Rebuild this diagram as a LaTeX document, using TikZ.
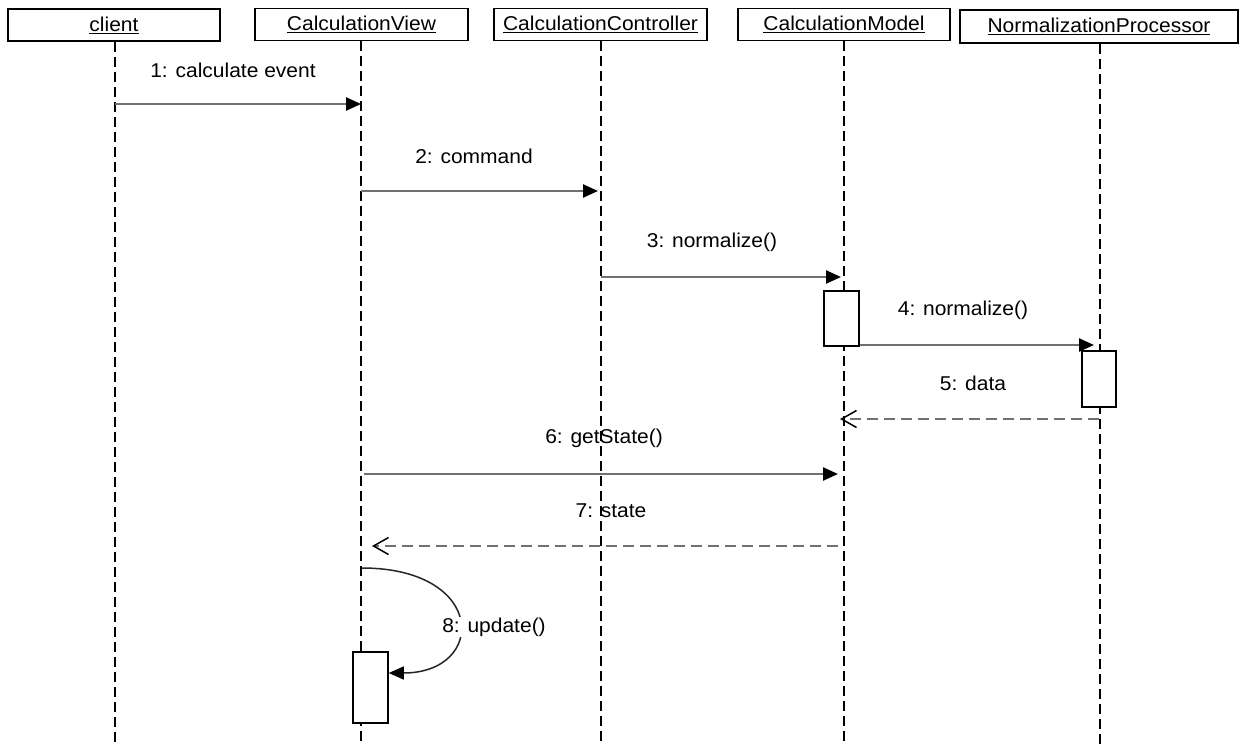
\documentclass[tikz,border=0pt]{standalone}
\usepackage{fontspec}
\setmainfont{Liberation Sans}[FakeStretch=1.05]
\usetikzlibrary{arrows.meta}
\definecolor{msggray}{HTML}{707070}
\begin{document}
\begin{tikzpicture}[x=1pt,y=-1pt,
  every node/.style={font=\fontsize{20}{24}\selectfont, inner sep=0pt},
  object/.style={draw=black, line width=1.6pt, fill=white, minimum height=32pt},
  lifeline/.style={draw=black, line width=1.3pt, dash pattern=on 10pt off 5pt},
  activation/.style={draw=black, line width=1.5pt, fill=white, minimum width=35pt},
  call/.style={draw=msggray, line width=2.4pt, -{Triangle[length=15pt,width=13pt,black]}},
  reply/.style={draw=msggray, line width=2.4pt, dash pattern=on 11pt off 6pt,
    -{Straight Barb[length=15pt,width=17pt,black,line width=1.5pt]}},
  msglabel/.style={fill=white, inner sep=1pt}]

% canvas
\path[use as bounding box, fill=white] (0,0) rectangle (1244,744);

% participants
\node[object, minimum width=212pt] (client) at (114,25) {\underline{client}};
\node[object, minimum width=213pt] (view) at (361.5,24.5) {\underline{CalculationView}};
\node[object, minimum width=213pt] (ctrl) at (600.5,24.5) {\underline{CalculationController}};
\node[object, minimum width=212pt] (model) at (844,24.5) {\underline{CalculationModel}};
\node[object, minimum width=278pt, minimum height=33pt] (proc) at (1099,26.5) {\underline{NormalizationProcessor}};

% lifeline ends
\coordinate (clientEnd) at (115,744);
\coordinate (viewEnd) at (361,744);
\coordinate (ctrlEnd) at (601,744);
\coordinate (modelEnd) at (844,744);
\coordinate (procEnd) at (1100,744);
\draw[lifeline] (client.south -| clientEnd) -- (clientEnd);
\draw[lifeline] (view.south -| viewEnd) -- (viewEnd);
\draw[lifeline] (ctrl.south -| ctrlEnd) -- (ctrlEnd);
\draw[lifeline] (model.south -| modelEnd) -- (modelEnd);
\draw[lifeline] (proc.south -| procEnd) -- (procEnd);

% activation bars
\node[activation, minimum width=35pt, minimum height=55pt] (modelAct) at (841.5,318.5) {};
\node[activation, minimum width=34pt, minimum height=56pt] (procAct) at (1099,379) {};
\node[activation, minimum width=35pt, minimum height=71pt] (viewAct) at (370.5,687.5) {};

% message end points
\coordinate (m1a) at (115,104);   \coordinate (m1b) at (361,104);
\coordinate (m2a) at (361,191);   \coordinate (m2b) at (598,191);
\coordinate (m3a) at (601,277);   \coordinate (m3b) at (841,277);
\coordinate (m4b) at (1094,345);
\coordinate (m5a) at (1099,419);  \coordinate (m5b) at (840,419);
\coordinate (m6a) at (364,474);   \coordinate (m6b) at (838,474);
\coordinate (m7a) at (838,546);   \coordinate (m7b) at (372,546);
\coordinate (m8a) at (362,568);

% messages
\draw[call] (m1a) -- (m1b);
\draw[call] (m2a) -- (m2b);
\draw[call] (m3a) -- (m3b);
\draw[call] (modelAct.east |- m4b) -- (m4b);
\draw[reply] (m5a) -- (m5b);
\draw[call] (m6a) -- (m6b);
\draw[reply] (m7a) -- (m7b);
\draw[draw=black!85, line width=1.5pt, -{Triangle[length=15pt,width=13pt,black]}]
  (m8a) .. controls (487,568) and (487,673) .. (viewAct.east |- 0,673);

% message labels
\node (l1) at (233,70) {1: calculate event};
\node (l2) at (474,156) {2: command};
\node (l3) at (712,242) {3: normalize()};
\node (l4) at (963,310) {4: normalize()};
\node (l5) at (973,383) {5: data};
\node (l6) at (604,438) {6: getState()};
\node (l7) at (611,511) {7: state};
\node[msglabel] (l8) at (494,627) {8: update()};
\end{tikzpicture}
\end{document}
